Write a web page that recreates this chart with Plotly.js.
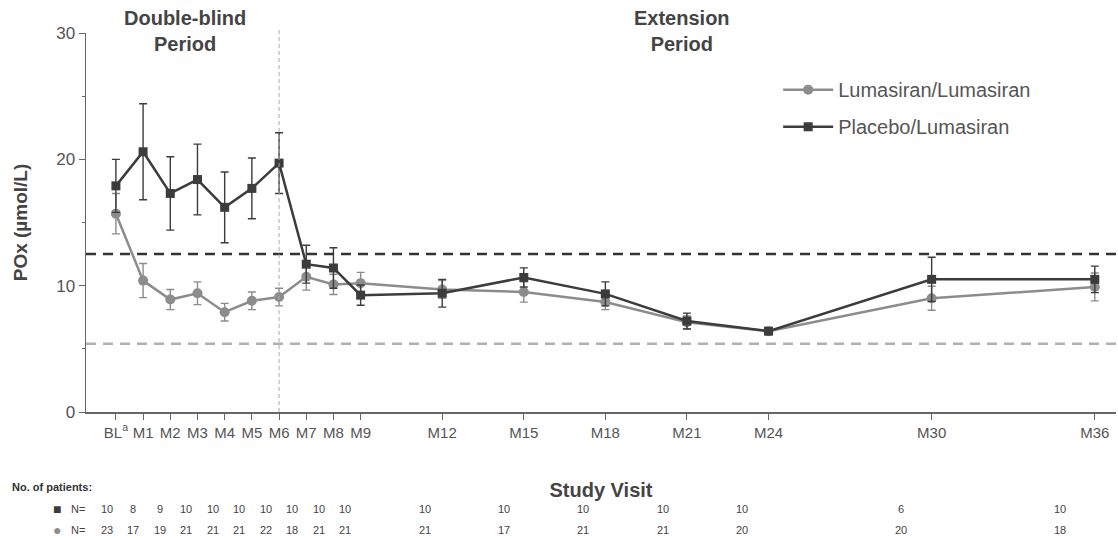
<!DOCTYPE html>
<html>
<head>
<meta charset="utf-8">
<script src="https://cdn.plot.ly/plotly-3.0.1.min.js"></script>
<style>html,body{margin:0;padding:0;background:#fff;}#chart{width:1118px;height:538px;}</style>
</head>
<body>
<div id="chart"></div>
<script>
// ---- data ----
const visitLabels = ['BL<sup>a</sup>','M1','M2','M3','M4','M5','M6','M7','M8','M9','M12','M15','M18','M21','M24','M30','M36'];
const visitMonths = [0,1,2,3,4,5,6,7,8,9,12,15,18,21,24,30,36];
const lumaMean = [15.7,10.4,8.9,9.4,7.9,8.8,9.1,10.7,10.1,10.2,9.7,9.5,8.7,7.1,6.4,9.0,9.9];
const lumaSE   = [1.6,1.35,0.8,0.9,0.7,0.7,0.7,1.05,0.8,0.85,0.7,0.8,0.6,0.5,0.2,0.95,1.1];
const placMean = [17.9,20.6,17.3,18.4,16.2,17.7,19.7,11.7,11.4,9.25,9.4,10.65,9.35,7.2,6.4,10.5,10.5];
const placSE   = [2.1,3.8,2.9,2.8,2.8,2.4,2.4,1.5,1.6,0.8,1.1,0.76,0.95,0.63,0.2,1.75,1.05];
const placN = [10,8,9,10,10,10,10,10,10,10,10,10,10,10,10,6,10];
const lumaN = [23,17,19,21,21,21,22,18,21,21,21,17,21,21,20,20,18];
const ulnLevel = 12.5;      // upper limit of normal
const normalLevel = 5.4;    // healthy reference level
const periodSplitMonth = 6;

const DARK = '#3c3c3c', GREY = '#8c8c8c', TXT = '#555555', NUM = '#444444';
const FONT = '"Liberation Sans", Arial, sans-serif';

const traces = [
  {
    x: visitMonths, y: lumaMean, name: 'Lumasiran/Lumasiran', type: 'scatter', mode: 'lines+markers',
    legendgroup: 'luma', legendrank: 1,
    line: {color: GREY, width: 2.5},
    marker: {symbol: 'circle', size: 10, color: GREY},
    error_y: {type: 'data', array: lumaSE, visible: true, color: GREY, thickness: 1.4, width: 4}
  },
  {
    x: visitMonths, y: placMean, name: 'Placebo/Lumasiran', type: 'scatter', mode: 'lines+markers',
    legendgroup: 'plac', legendrank: 2,
    line: {color: DARK, width: 2.5},
    marker: {symbol: 'square', size: 9, color: DARK},
    error_y: {type: 'data', array: placSE, visible: true, color: DARK, thickness: 1.4, width: 4}
  }
];

const annotations = [
  {text: '<b>Double-blind<br>Period</b>', xref: 'paper', yref: 'paper', x: 0.096, y: 1.005, showarrow: false,
   font: {family: FONT, size: 20, color: '#444'}, xanchor: 'center', yanchor: 'middle'},
  {text: '<b>Extension<br>Period</b>', xref: 'paper', yref: 'paper', x: 0.579, y: 1.005, showarrow: false,
   font: {family: FONT, size: 20, color: '#444'}, xanchor: 'center', yanchor: 'middle'},
  {text: '<b>No. of patients:</b>', xref: 'paper', yref: 'paper', x: -0.0738, y: -0.197, showarrow: false,
   font: {family: FONT, size: 11, color: '#333'}, xanchor: 'left', yanchor: 'middle'},
  {text: '■', xref: 'paper', yref: 'paper', x: -0.028, y: -0.255, showarrow: false,
   font: {family: FONT, size: 14, color: DARK}, xanchor: 'center', yanchor: 'middle'},
  {text: '●', xref: 'paper', yref: 'paper', x: -0.028, y: -0.311, showarrow: false,
   font: {family: FONT, size: 14, color: GREY}, xanchor: 'center', yanchor: 'middle'},
  {text: 'N=', xref: 'paper', yref: 'paper', x: -0.008, y: -0.255, showarrow: false,
   font: {family: FONT, size: 11, color: NUM}, xanchor: 'center', yanchor: 'middle'},
  {text: 'N=', xref: 'paper', yref: 'paper', x: -0.008, y: -0.311, showarrow: false,
   font: {family: FONT, size: 11, color: NUM}, xanchor: 'center', yanchor: 'middle'}
];
visitMonths.forEach((m, i) => {
  annotations.push({text: String(placN[i]), xref: 'x2', yref: 'paper', x: m, y: -0.255, showarrow: false,
    font: {family: FONT, size: 11, color: NUM}, xanchor: 'center', yanchor: 'middle'});
  annotations.push({text: String(lumaN[i]), xref: 'x2', yref: 'paper', x: m, y: -0.311, showarrow: false,
    font: {family: FONT, size: 11, color: NUM}, xanchor: 'center', yanchor: 'middle'});
});

const layout = {
  width: 1118, height: 538,
  margin: {l: 86, r: 2, t: 33, b: 126},
  paper_bgcolor: '#fff', plot_bgcolor: '#fff',
  font: {family: FONT, color: TXT},
  showlegend: true,
  legend: {x: 0.672, y: 0.902, xanchor: 'left', yanchor: 'top', bgcolor: 'rgba(0,0,0,0)',
           font: {family: FONT, size: 20, color: TXT}, tracegroupgap: 8, itemwidth: 50},
  xaxis: {
    range: [-1.1, 36.78], tickmode: 'array', tickvals: visitMonths, ticktext: visitLabels,
    ticks: 'outside', ticklen: 6, tickwidth: 1, tickcolor: '#666',
    showline: true, linecolor: '#666', linewidth: 1.5, showgrid: false, zeroline: false,
    tickfont: {family: FONT, size: 15, color: TXT},
    title: {text: '<b>Study Visit</b>', font: {family: FONT, size: 20, color: '#444'}, standoff: 43}
  },
  xaxis2: {
    overlaying: 'x', anchor: 'y', range: [-0.79, 38.12], visible: false, showgrid: false, zeroline: false
  },
  yaxis: {
    range: [0, 30], tickvals: [0, 10, 20, 30], ticks: 'outside', ticklen: 6, tickwidth: 1, tickcolor: '#666',
    minor: {dtick: 5, ticks: 'outside', ticklen: 3, tickcolor: '#666', showgrid: false},
    showline: true, linecolor: '#666', linewidth: 1.5, showgrid: false, zeroline: false,
    tickfont: {family: FONT, size: 17, color: TXT},
    title: {text: '<b>POx (µmol/L)</b>', font: {family: FONT, size: 19, color: '#444'}, standoff: 23}
  },
  shapes: [
    {type: 'line', xref: 'paper', x0: 0, x1: 1, yref: 'y', y0: ulnLevel, y1: ulnLevel,
     line: {color: '#333', width: 2.5, dash: '10px,7px'}},
    {type: 'line', xref: 'paper', x0: 0, x1: 1, yref: 'y', y0: normalLevel, y1: normalLevel,
     line: {color: '#b0b0b0', width: 2.5, dash: '10px,7px'}},
    {type: 'line', xref: 'x', x0: periodSplitMonth, x1: periodSplitMonth, yref: 'paper', y0: 0, y1: 1.01,
     line: {color: '#aaaaaa', width: 1, dash: '4px,3px'}}
  ],
  annotations: annotations
};

Plotly.newPlot('chart', traces, layout, {displayModeBar: false, staticPlot: true});
</script>
</body>
</html>
